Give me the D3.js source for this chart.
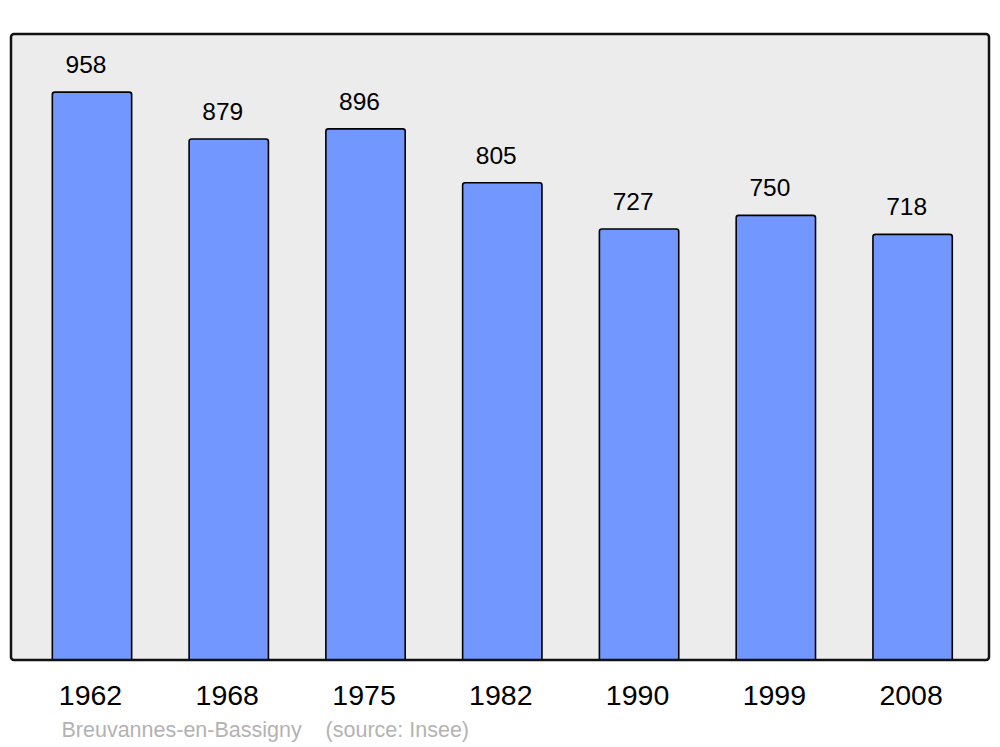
<!DOCTYPE html>
<html><head><meta charset="utf-8">
<script src="https://cdn.jsdelivr.net/npm/d3@7"></script>
<style>body{margin:0;background:#fff}svg{display:block}</style>
</head><body>
<svg id="c" width="1000" height="747"></svg>
<script>
const years = ["1962","1968","1975","1982","1990","1999","2008"];
const population = [958, 879, 896, 805, 727, 750, 718];
const caption = "Breuvannes-en-Bassigny    (source: Insee)";

const svg = d3.select("#c");
const font = "'Liberation Sans', Arial, sans-serif";
const panel = {x0: 11, y0: 34, x1: 989, y1: 660};

const x = d3.scaleBand().domain(years).range([23.6, 981]).paddingInner(0.42).paddingOuter(0.21);
const y = d3.scaleLinear().domain([0, 1056]).range([panel.y1, panel.y0]);

svg.append("rect").attr("x", panel.x0).attr("y", panel.y0)
  .attr("width", panel.x1 - panel.x0).attr("height", panel.y1 - panel.y0)
  .attr("rx", 3).attr("fill", "#ececec");

const data = years.map((yr, i) => ({year: yr, value: population[i]}));

svg.selectAll("rect.bar").data(data).join("rect").attr("class", "bar")
  .attr("x", d => x(d.year)).attr("y", d => y(d.value))
  .attr("width", x.bandwidth()).attr("height", d => y(0) - y(d.value) + 3)
  .attr("rx", 2.5).attr("fill", "#7298ff").attr("stroke", "#000").attr("stroke-width", 1.6);

svg.append("rect").attr("x", 0).attr("y", panel.y1 + 1).attr("width", 1000).attr("height", 10).attr("fill", "#fff");

svg.append("rect").attr("x", panel.x0).attr("y", panel.y0)
  .attr("width", panel.x1 - panel.x0).attr("height", panel.y1 - panel.y0)
  .attr("rx", 3).attr("fill", "none").attr("stroke", "#111").attr("stroke-width", 2.5);

svg.selectAll("text.val").data(data).join("text").attr("class", "val")
  .attr("x", d => x(d.year) + x.bandwidth() / 2 - 6).attr("y", d => y(d.value) - 19)
  .attr("text-anchor", "middle").attr("font-family", font).attr("font-size", 24.5)
  .attr("fill", "#000").text(d => d.value);

const xAxis = d3.axisBottom(x).tickSize(0).tickPadding(0);
const ax = svg.append("g").attr("transform", `translate(0,${panel.y1})`).call(xAxis);
ax.select(".domain").remove();
ax.selectAll("text").attr("font-family", font).attr("font-size", 28.5).attr("fill", "#000")
  .attr("dy", null).attr("y", 45).attr("dx", -1.5);

svg.append("text").attr("x", 61.5).attr("y", 737).attr("font-family", font).attr("font-size", 21.5)
  .attr("fill", "#b3b3b3").attr("xml:space", "preserve").style("white-space", "pre").text(caption);
</script>
</body></html>
